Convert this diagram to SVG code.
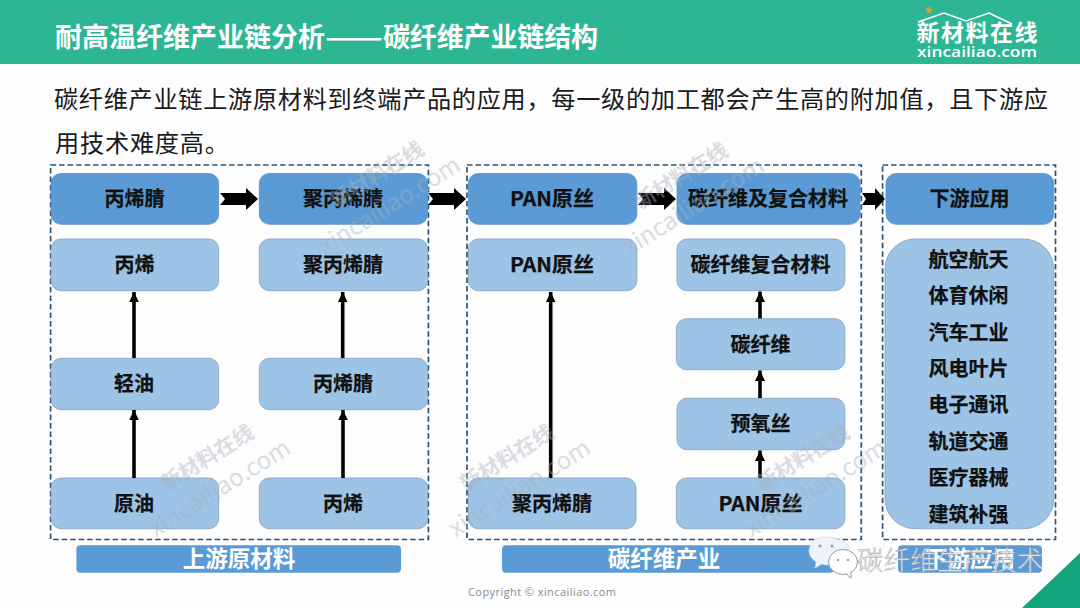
<svg xmlns="http://www.w3.org/2000/svg" xmlns:xlink="http://www.w3.org/1999/xlink" width="1080" height="608" viewBox="0 0 1080 608">
<style>
text{font-family:"Noto Sans CJK SC","Noto Sans",sans-serif}
.d{fill:#5b9bd5;stroke:#5590c8;stroke-width:.8}
.l{fill:#9dc3e6;stroke:#7f9fc0;stroke-width:.8}
.b{fill:#5b9bd5}
.n{font-size:20px;font-weight:700;fill:#111;stroke:#111;stroke-width:.25;text-anchor:middle}
.w{font-size:22.500px;font-weight:700;fill:#fff;text-anchor:middle}
.t{font-size:27px;font-weight:700;fill:#fff}
.dash{fill:none;stroke:#2a5470;stroke-width:1.7;stroke-dasharray:5.5 3}
.v{stroke:#000;stroke-width:3.6;fill:none}
.wm1{font-size:21px;font-weight:700;fill:#a9b1ba;opacity:.42;text-anchor:middle}
.wm2{font-size:24px;fill:#a9b1ba;opacity:.42;text-anchor:middle}
</style>
<defs>
<marker id="up" markerUnits="userSpaceOnUse" markerWidth="10" markerHeight="11" refX="10.4" refY="5" orient="auto"><path d="M0 0L10.4 5L0 10Z" fill="#000"/></marker>
<path id="blk" d="M0-6H26V-11L38 0L26 11V6H0L5 0Z" fill="#000"/>
<g id="wm"><text class="wm1" x="0" y="0" transform="translate(211 464) rotate(-32)">新材料在线</text><text class="wm2" x="0" y="0" transform="translate(224 495) rotate(-32)">xincailiao.com</text></g>
</defs>
<rect id="bg" width="1080" height="608" fill="#fdfdfe"/>
<g id="header">
<rect width="1080" height="64" fill="#2db693"/>
<text class="t" x="55" y="47" textLength="270" lengthAdjust="spacing">耐高温纤维产业链分析</text>
<text class="t" x="325" y="47" textLength="58" lengthAdjust="spacingAndGlyphs">——</text>
<text class="t" x="383" y="47" textLength="215" lengthAdjust="spacing">碳纤维产业链结构</text>
</g>
<g id="logo">
<path d="M918 22L944 13L966 21L989 13L1012 24" fill="none" stroke="#fff" stroke-width="1.600"/>
<circle cx="929" cy="10" r="3" fill="#d9983a"/>
<text x="977" y="41" font-size="23" font-weight="700" fill="#fff" text-anchor="middle" textLength="121" lengthAdjust="spacing">新材料在线</text>
<text x="977" y="57" font-size="14" font-weight="600" fill="#fff" text-anchor="middle" textLength="120" lengthAdjust="spacingAndGlyphs" style="font-family:'Open Sans',sans-serif">xincailiao.com</text>
</g>
<g id="intro" font-size="24.200" fill="#1a1a1a">
<text x="54" y="108" textLength="994" lengthAdjust="spacing">碳纤维产业链上游原材料到终端产品的应用，每一级的加工都会产生高的附加值，且下游应</text>
<text x="55" y="152" textLength="174" lengthAdjust="spacing">用技术难度高。</text>
</g>
<g id="groups">
<rect id="group-upstream" class="dash" x="50.600" y="165" width="377.800" height="374.500"/>
<rect id="group-carbon" class="dash" x="467" y="165" width="394.300" height="374.500"/>
<rect id="group-downstream" class="dash" x="882.600" y="165" width="172.900" height="374.500"/>
</g>
<g id="nodes">
<g id="n1"><rect class="d" x="51" y="173.500" width="167.700" height="50.800" rx="10"/><text class="n" x="134.500" y="206">丙烯腈</text></g>
<g id="n2"><rect class="d" x="259.300" y="173.500" width="168.400" height="50.800" rx="10"/><text class="n" x="343" y="206">聚丙烯腈</text></g>
<g id="n3"><rect class="d" x="468.300" y="173.500" width="168.500" height="50.800" rx="10"/><text class="n" x="552" y="206" textLength="84" lengthAdjust="spacingAndGlyphs">PAN原丝</text></g>
<g id="n4"><rect class="d" x="677" y="173.500" width="183" height="50.800" rx="10"/><text class="n" x="768" y="206">碳纤维及复合材料</text></g>
<g id="n5"><rect class="d" x="886" y="173.500" width="167.800" height="50.800" rx="10"/><text class="n" x="969.500" y="206">下游应用</text></g>
<g id="n6"><rect class="l" x="51" y="239" width="167.700" height="51.700" rx="10"/><text class="n" x="134.500" y="272">丙烯</text></g>
<g id="n7"><rect class="l" x="259.300" y="239" width="168.400" height="51.700" rx="10"/><text class="n" x="343" y="272">聚丙烯腈</text></g>
<g id="n8"><rect class="l" x="468.300" y="239" width="168.500" height="51.700" rx="10"/><text class="n" x="552" y="272" textLength="84" lengthAdjust="spacingAndGlyphs">PAN原丝</text></g>
<g id="n9"><rect class="l" x="677" y="239" width="167.800" height="51.700" rx="10"/><text class="n" x="760.500" y="272">碳纤维复合材料</text></g>
<g id="n10"><rect class="l" x="51" y="358.300" width="167.700" height="51.400" rx="10"/><text class="n" x="134" y="391">轻油</text></g>
<g id="n11"><rect class="l" x="259.300" y="358.300" width="168.400" height="51.400" rx="10"/><text class="n" x="343" y="391">丙烯腈</text></g>
<g id="n12"><rect class="l" x="51" y="478" width="167.700" height="50.700" rx="10"/><text class="n" x="134" y="511">原油</text></g>
<g id="n13"><rect class="l" x="259.300" y="478" width="168.400" height="50.700" rx="10"/><text class="n" x="343" y="511">丙烯</text></g>
<g id="n14"><rect class="l" x="468.300" y="478" width="167.700" height="50.700" rx="10"/><text class="n" x="552" y="511">聚丙烯腈</text></g>
<g id="n15"><rect class="l" x="676.400" y="478" width="168.400" height="50.700" rx="10"/><text class="n" x="760.500" y="511" textLength="84" lengthAdjust="spacingAndGlyphs">PAN原丝</text></g>
<g id="n16"><rect class="l" x="676.400" y="318.700" width="168.400" height="51" rx="10"/><text class="n" x="760.500" y="352">碳纤维</text></g>
<g id="n17"><rect class="l" x="677" y="398.300" width="167.800" height="51.400" rx="10"/><text class="n" x="760.500" y="431">预氧丝</text></g>
<g id="n18"><rect class="l" x="885" y="239" width="168.800" height="289.700" rx="30"/>
<text class="n" x="968.500" y="266.500">航空航天</text><text class="n" x="968.500" y="302.500">体育休闲</text><text class="n" x="968.500" y="339.500">汽车工业</text><text class="n" x="968.500" y="375.500">风电叶片</text><text class="n" x="968.500" y="411.500">电子通讯</text><text class="n" x="968.500" y="448.500">轨道交通</text><text class="n" x="968.500" y="484.500">医疗器械</text><text class="n" x="968.500" y="521.500">建筑补强</text></g>
<g id="bar1"><rect class="b" x="76.400" y="545.300" width="324.600" height="27.400" rx="4"/><text class="w" x="239" y="567">上游原材料</text></g>
<g id="bar2"><rect class="b" x="502" y="545.300" width="332" height="27.400" rx="4"/><text class="w" x="664" y="567">碳纤维产业</text></g>
<g id="bar3"><rect class="b" x="898" y="545.300" width="144" height="27.400" rx="4"/><text class="w" x="970" y="567">下游应用</text></g>
</g>
<g id="connectors">
<use xlink:href="#blk" href="#blk" transform="translate(220 199)"/>
<use xlink:href="#blk" href="#blk" transform="translate(428 199)"/>
<use xlink:href="#blk" href="#blk" transform="translate(638 199)"/>
<path d="M862 193H875V188L885 199L875 210V205H862L866 199Z" fill="#000"/>
<path class="v" marker-end="url(#up)" d="M134 358V292"/>
<path class="v" marker-end="url(#up)" d="M134 478V410"/>
<path class="v" marker-end="url(#up)" d="M342.700 358V292"/>
<path class="v" marker-end="url(#up)" d="M343 478V410"/>
<path class="v" marker-end="url(#up)" d="M550.700 478V292"/>
<path class="v" marker-end="url(#up)" d="M760 318.500V291.500"/>
<path class="v" marker-end="url(#up)" d="M760 398V370.500"/>
<path class="v" marker-end="url(#up)" d="M760 478V450.500"/>
</g>
<g id="watermarks">
<use xlink:href="#wm" href="#wm" transform="translate(170 -283)"/>
<use xlink:href="#wm" href="#wm" transform="translate(474 -282)"/>
<use xlink:href="#wm" href="#wm"/>
<use xlink:href="#wm" href="#wm" transform="translate(300 0)"/>
<use xlink:href="#wm" href="#wm" transform="translate(596 0)"/>
</g>
<g id="wechat">
<path d="M826 537C815 537 809 544 809 551C809 556 812 559 816 562L815 568L822 564C824 565 827 565 829 565L850 548C846 541 836 537 826 537Z" fill="#eef3fa" stroke="#c5d4e4" stroke-width=".6"/>
<ellipse cx="843" cy="562" rx="14.500" ry="12.500" fill="#fff" stroke="#9a9a9a" stroke-width="1"/>
<path d="M846 574L851 578L851 572" fill="#fff" stroke="#9a9a9a" stroke-width="1"/>
<circle cx="838" cy="560" r="1.300" fill="#aaa"/><circle cx="848" cy="560" r="1.300" fill="#aaa"/>
<circle cx="820" cy="546" r="1.500" fill="#8aa0b8"/><circle cx="832" cy="546" r="1.500" fill="#8aa0b8"/>
<text x="857" y="570" font-size="26" font-weight="300" fill="#f4f4f4" stroke="#a8a8a8" stroke-width=".5" textLength="186" lengthAdjust="spacing">碳纤维生产技术</text>
</g>
<g id="footer">
<text x="468" y="596" font-size="11" fill="#8a8a8a" style="font-family:'Open Sans',sans-serif" textLength="148">Copyright © xincailiao.com</text>
<path id="corner" d="M1080 553V608H1022Z" fill="#12a57c"/>
</g>
</svg>
